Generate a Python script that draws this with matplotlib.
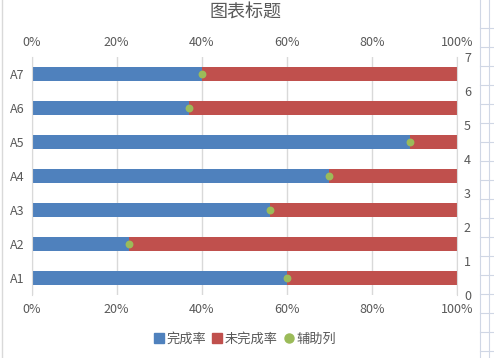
import matplotlib
matplotlib.use('Agg')
import matplotlib.pyplot as plt
from matplotlib.lines import Line2D

plt.rcParams['font.family'] = ['Noto Sans CJK SC', 'DejaVu Sans']

# data
categories = ['A1', 'A2', 'A3', 'A4', 'A5', 'A6', 'A7']
done = [0.60, 0.23, 0.56, 0.70, 0.89, 0.37, 0.40]
todo = [1 - v for v in done]
helper_y = [0.5, 1.5, 2.5, 3.5, 4.5, 5.5, 6.5]
x_ticks = [0, 0.2, 0.4, 0.6, 0.8, 1.0]
x_labels = ['0%', '20%', '40%', '60%', '80%', '100%']

blue = '#4F81BD'
red = '#C0504D'
green = '#9BBB59'
grey_txt = '#595959'
grid_c = '#D9D9D9'

W, H = 494, 358
fig = plt.figure(figsize=(W / 100, H / 100), dpi=100)

# spreadsheet cells behind the chart (right edge)
for x in (480, 489):
    fig.add_artist(Line2D([x / W, x / W], [0, 1], color='#D0D7E5', lw=0.8))
y = 27.7
while y < H:
    fig.add_artist(Line2D([480 / W, 1], [1 - y / H, 1 - y / H], color='#D0D7E5', lw=0.8))
    y += 19
fig.add_artist(Line2D([1.5 / W, 1.5 / W], [0, 1], color='#D9D9D9', lw=1))

ax = fig.add_axes([31.5 / W, (H - 295) / H, (457 - 31.5) / W, (295 - 57) / H])
pos = list(range(len(categories)))
ax.barh(pos, done, height=0.4, color=blue, label='完成率', zorder=2)
ax.barh(pos, todo, left=done, height=0.4, color=red, label='未完成率', zorder=2)
ax.set_ylim(-0.5, len(categories) - 0.5)
ax.set_yticks(pos)
ax.set_yticklabels(categories)
ax.set_xlim(0, 1)
ax.set_xticks(x_ticks)
ax.set_xticklabels(x_labels)
ax.xaxis.grid(True, color=grid_c, lw=1, zorder=0)
ax.set_axisbelow(True)
ax.tick_params(axis='x', which='both', length=0, top=True, labeltop=True,
               labelsize=9, colors=grey_txt, pad=6)
ax.tick_params(axis='y', length=0, labelsize=9, colors=grey_txt, pad=5)
for s in ('top', 'bottom', 'right'):
    ax.spines[s].set_visible(False)
ax.spines['left'].set_color(grid_c)

ax2 = ax.twinx()
ax2.scatter(done, helper_y, s=32, color=green, zorder=3, label='辅助列', linewidths=0)
ax2.set_ylim(0, 7)
ax2.set_yticks(range(8))
ax2.tick_params(axis='y', length=0, labelsize=9, colors=grey_txt, pad=5)
for s in ('top', 'bottom', 'left'):
    ax2.spines[s].set_visible(False)
ax2.spines['right'].set_color(grid_c)

fig.text(245 / W, 1 - 13 / H, '图表标题', ha='center', va='center',
         fontsize=13, color=grey_txt)

handles = [
    Line2D([], [], marker='s', ls='', color=blue, markersize=6.5),
    Line2D([], [], marker='s', ls='', color=red, markersize=6.5),
    Line2D([], [], marker='o', ls='', color=green, markersize=6.5),
]
fig.legend(handles, ['完成率', '未完成率', '辅助列'], loc='center',
           bbox_to_anchor=(245 / W, 1 - 339 / H), ncol=3, frameon=False,
           fontsize=9.5, labelcolor=grey_txt, handlelength=0.8,
           handletextpad=0.2, columnspacing=0.4)

fig.savefig('out.png', dpi=100, facecolor='white')
